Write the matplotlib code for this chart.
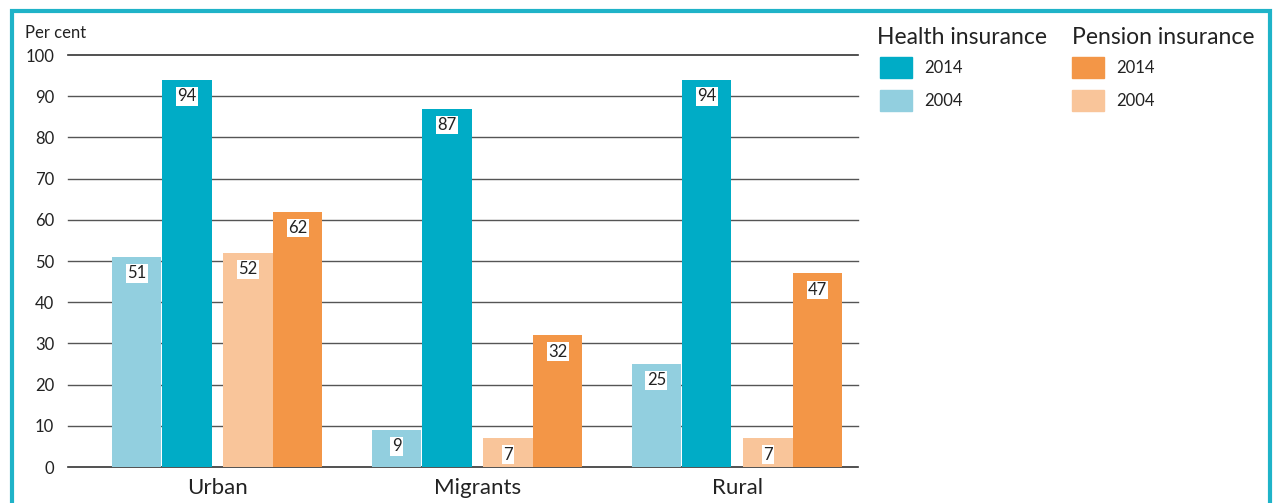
import matplotlib.pyplot as plt
from matplotlib.patches import Rectangle

plt.rcParams['font.family'] = ['Lato', 'DejaVu Sans']

groups = ['Urban', 'Migrants', 'Rural']
health_2004 = [51, 9, 25]
health_2014 = [94, 87, 94]
pension_2004 = [52, 7, 7]
pension_2014 = [62, 32, 47]
yticks = [0, 10, 20, 30, 40, 50, 60, 70, 80, 90, 100]

c_h14 = '#00acc6'
c_h04 = '#92cfdf'
c_p14 = '#f39647'
c_p04 = '#f9c59a'

fig = plt.figure(figsize=(12.73, 5.03), dpi=100)
ax = fig.add_axes([68/1273, 36/503, 790/1273, 412/503])

w = 0.19
series = [(health_2004, -0.311, c_h04), (health_2014, -0.117, c_h14),
          (pension_2004, 0.118, c_p04), (pension_2014, 0.309, c_p14)]
x = list(range(len(groups)))
for vals, off, col in series:
    pos = [i + off for i in x]
    ax.bar(pos, vals, width=w, color=col, zorder=3)
    for p, v in zip(pos, vals):
        ax.text(p, v - 4, str(v), ha='center', va='center', fontsize=12,
                color='#222222', zorder=4,
                bbox=dict(facecolor='white', edgecolor='none', pad=1.0))

ax.set_xlim(-0.575, 2.465)
ax.set_ylim(0, 100)
ax.set_yticks(yticks)
ax.set_yticklabels([str(t) for t in yticks], fontsize=12, color='#222222')
ax.set_xticks(x)
ax.set_xticklabels(groups, fontsize=16, color='#222222')
ax.tick_params(axis='both', length=0)
ax.tick_params(axis='y', pad=10)
ax.tick_params(axis='x', pad=8)
for t in yticks:
    ax.axhline(t, color='#333333' if t in (0, 100) else '#555555',
               linewidth=1.2 if t in (0, 100) else 1, zorder=2 if t == 0 else 0,
               clip_on=False)
for s in ax.spines.values():
    s.set_visible(False)

fig.text(25/1273, 1 - 33/503, 'Per cent', fontsize=12, va='center', ha='left', color='#222222')

# legend
def fx(px):
    return px / 1273
def fy(py):
    return 1 - py / 503

fig.text(fx(877), fy(38), 'Health insurance', fontsize=16.5, va='center', color='#222222')
fig.text(fx(1072), fy(38), 'Pension insurance', fontsize=16.5, va='center', color='#222222')
legend_items = [(880, 57, c_h14, '2014'), (880, 90, c_h04, '2004'),
                (1072, 57, c_p14, '2014'), (1072, 90, c_p04, '2004')]
for lx, ly, col, lab in legend_items:
    fig.add_artist(Rectangle((fx(lx), fy(ly + 21)), 32/1273, 21/503,
                             transform=fig.transFigure, color=col))
    fig.text(fx(lx + 44), fy(ly + 11), lab, fontsize=12, va='center', color='#222222')

# frame
fig.add_artist(Rectangle((fx(12), -0.05), 1258/1273, fy(11) + 0.05,
                         transform=fig.transFigure, fill=False,
                         edgecolor='#1fb3c8', linewidth=3))

plt.savefig('out.png', dpi=100)
